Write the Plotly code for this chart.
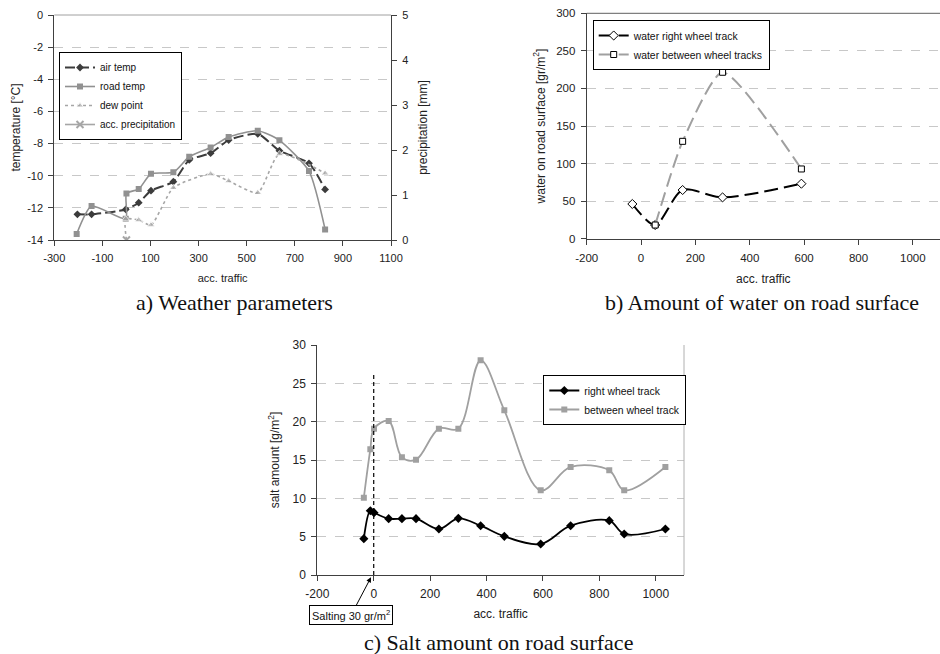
import plotly.graph_objects as go

# ---------------- data: a) weather parameters ----------------
air_x = [-204, -145, -3, 51, 102, 195, 261, 350, 425, 546, 636, 759, 826]
air_temp = [-12.4, -12.4, -12.1, -11.68, -10.93, -10.37, -9.02, -8.6, -7.78, -7.4, -8.44, -9.23, -10.85]
road_x = [-207, -145, -3, 0, 51, 102, 195, 261, 350, 425, 546, 636, 759, 826]
road_temp = [-13.63, -11.89, -12.68, -11.1, -10.83, -9.88, -9.79, -8.82, -8.24, -7.59, -7.2, -7.8, -9.71, -13.34]
dew_x = [0, -3, 51, 102, 195, 350, 425, 546, 636, 826]
dew_temp = [-14, -12.7, -12.76, -13.07, -10.75, -9.9, -10.33, -11.06, -8.65, -9.85]
dew_marker = [0, 7, 7, 7, 7, 7, 7, 7, 7, 7]
precip_x = [0]
precip_mm = [0]
traffic_ticks_a = [-300, -100, 100, 300, 500, 700, 900, 1100]
temp_ticks = [0, -2, -4, -6, -8, -10, -12, -14]
precip_ticks = [0, 1, 2, 3, 4, 5]

# ---------------- data: b) water on road surface ----------------
water_right_x = [-32, 52, 153, 300, 590]
water_right = [46.2, 18.2, 64.8, 55, 73.2]
water_between_x = [52, 153, 300, 590]
water_between = [18.2, 129.6, 221.5, 92.8]
traffic_ticks_bc = [-200, 0, 200, 400, 600, 800, 1000]
water_ticks = [0, 50, 100, 150, 200, 250, 300]

# ---------------- data: c) salt amount ----------------
salt_x = [-35, -12, 1, 53, 100, 150, 231, 300, 379, 463, 592, 698, 835, 888, 1034]
salt_right = [4.74, 8.39, 8.13, 7.35, 7.35, 7.35, 6.0, 7.39, 6.43, 5.04, 4.04, 6.43, 7.09, 5.35, 6.0]
salt_between = [10.09, 16.39, 19.09, 20.09, 15.35, 15.04, 19.09, 19.09, 28.0, 21.48, 11.04, 14.09, 13.65, 11.04, 14.09]
salting_x = [0, 0]
salting_y = [0, 26.4]
salt_ticks = [0, 5, 10, 15, 20, 25, 30]

W, H = 940, 654
FONT = "Liberation Sans, Arial, sans-serif"
SERIF = "Liberation Serif, Times New Roman, serif"
AX = "#404040"
GRID = "#c8c8c8"


def px(v):
    return v / W


def py(v):
    return 1 - v / H


def labels(vals):
    return [str(v) for v in vals]


fig = go.Figure()

# ---- panel a ----
fig.add_trace(go.Scatter(x=air_x, y=air_temp, name="air temp", mode="lines+markers",
                         line=dict(color="#3c3c3c", width=2, dash="10px,4px", shape="spline", smoothing=0.6),
                         marker=dict(symbol="diamond", size=6, color="#3c3c3c"),
                         xaxis="x", yaxis="y", legend="legend"))
fig.add_trace(go.Scatter(x=road_x, y=road_temp, name="road temp", mode="lines+markers",
                         line=dict(color="#919191", width=1.6, shape="spline", smoothing=0.6),
                         marker=dict(symbol="square", size=6, color="#919191"),
                         xaxis="x", yaxis="y", legend="legend"))
fig.add_trace(go.Scatter(x=dew_x, y=dew_temp, name="dew point", mode="lines+markers",
                         line=dict(color="#a6a6a6", width=1.6, dash="3px,3px", shape="spline", smoothing=0.6),
                         marker=dict(symbol="triangle-up", size=dew_marker, color="#a6a6a6"),
                         xaxis="x", yaxis="y", legend="legend"))
fig.add_trace(go.Scatter(x=precip_x, y=precip_mm, name="acc. precipitation", mode="lines+markers",
                         line=dict(color="#a6a6a6", width=1.6),
                         marker=dict(symbol="x-thin", size=7, color="#a6a6a6", line=dict(color="#a6a6a6", width=2)),
                         xaxis="x", yaxis="y2", legend="legend"))

# ---- panel b ----
fig.add_trace(go.Scatter(x=water_right_x, y=water_right, name="water right wheel track", mode="lines+markers",
                         line=dict(color="#000000", width=2, dash="14px,6px", shape="spline", smoothing=0.8),
                         marker=dict(symbol="diamond", size=7, color="white", line=dict(color="#000000", width=1)),
                         xaxis="x2", yaxis="y3", legend="legend2"))
fig.add_trace(go.Scatter(x=water_between_x, y=water_between, name="water between wheel tracks", mode="lines+markers",
                         line=dict(color="#a0a0a0", width=2, dash="14px,6px", shape="spline", smoothing=0.6),
                         marker=dict(symbol="square", size=6, color="white", line=dict(color="#000000", width=1)),
                         xaxis="x2", yaxis="y3", legend="legend2"))

# ---- panel c ----
fig.add_trace(go.Scatter(x=salt_x, y=salt_right, name="right wheel track", mode="lines+markers",
                         line=dict(color="#000000", width=1.8, shape="spline", smoothing=1),
                         marker=dict(symbol="diamond", size=7, color="#000000"),
                         xaxis="x3", yaxis="y4", legend="legend3"))
fig.add_trace(go.Scatter(x=salt_x, y=salt_between, name="between wheel track", mode="lines+markers",
                         line=dict(color="#a0a0a0", width=1.8, shape="spline", smoothing=1),
                         marker=dict(symbol="square", size=6, color="#a0a0a0"),
                         xaxis="x3", yaxis="y4", legend="legend3"))
fig.add_trace(go.Scatter(x=salting_x, y=salting_y, mode="lines", showlegend=False, hoverinfo="skip",
                         line=dict(color="#000000", width=1.2, dash="4px,3px"),
                         xaxis="x3", yaxis="y4"))


def xax(domain, rng, ticks, anchor, fs, title, tfs, standoff=6):
    return dict(domain=domain, range=rng, tickmode="array", tickvals=ticks, ticktext=labels(ticks),
                anchor=anchor, automargin=False,
                showline=True, linecolor=AX, linewidth=1, ticks="outside", ticklen=5, tickcolor=AX,
                showgrid=False, zeroline=False, tickfont=dict(family=FONT, size=fs, color="#222"),
                ticklabelstandoff=3,
                title=dict(text=title, font=dict(family=FONT, size=tfs, color="#222"), standoff=standoff))


def yax(domain, rng, ticks, anchor, fs, title, tfs, standoff=8):
    return dict(domain=domain, range=rng, tickmode="array", tickvals=ticks, ticktext=labels(ticks),
                anchor=anchor, automargin=False,
                showline=True, linecolor=AX, linewidth=1, ticks="outside", ticklen=5, tickcolor=AX,
                showgrid=True, gridcolor=GRID, griddash="dash", gridwidth=1, zeroline=False,
                tickfont=dict(family=FONT, size=fs, color="#222"), ticklabelstandoff=3,
                title=dict(text=title, font=dict(family=FONT, size=tfs, color="#222"), standoff=standoff))


dom_a_x = [px(54.3), px(391)]
dom_a_y = [py(240), py(15)]
dom_b_x = [px(586.7), 1.0]
dom_b_y = [py(238.7), py(13.3)]
dom_c_x = [px(317.3), px(684)]
dom_c_y = [py(575), py(345)]

legend_style = dict(bgcolor="white", bordercolor="#000000", borderwidth=1,
                    xanchor="left", yanchor="top", tracegroupgap=0)

fig.update_layout(
    width=W, height=H,
    margin=dict(l=0, r=0, t=0, b=0, autoexpand=False),
    paper_bgcolor="white", plot_bgcolor="white",
    font=dict(family=FONT, color="#222"),
    xaxis=xax(dom_a_x, [-300, 1100], traffic_ticks_a, "y", 11, "acc. traffic", 11, standoff=11),
    yaxis=yax(dom_a_y, [-14, 0], temp_ticks, "x", 11, "temperature [°C]", 12, standoff=3),
    yaxis2=dict(overlaying="y", side="right", anchor="x", range=[0, 5], tickmode="array",
                tickvals=precip_ticks, ticktext=labels(precip_ticks), automargin=False,
                showline=True, linecolor=AX, linewidth=1, ticks="outside", ticklen=5, tickcolor=AX,
                showgrid=False, zeroline=False, ticklabelstandoff=3,
                tickfont=dict(family=FONT, size=11, color="#222"),
                title=dict(text="precipitation [mm]", font=dict(family=FONT, size=12, color="#222"), standoff=11)),
    xaxis2=xax(dom_b_x, [-200, 1100], traffic_ticks_bc, "y3", 11.5, "acc. traffic", 12, standoff=12),
    yaxis3=yax(dom_b_y, [0, 300], water_ticks, "x2", 11.5, "water on road surface [gr/m<sup>2</sup>]", 12),
    xaxis3=xax(dom_c_x, [-200, 1100], traffic_ticks_bc, "y4", 12, "acc. traffic", 12, standoff=9),
    yaxis4=yax(dom_c_y, [0, 30], salt_ticks, "x3", 12, "salt amount [g/m<sup>2</sup>]", 12, standoff=10),
    legend=dict(x=px(59), y=py(52), font=dict(family=FONT, size=10, color="#111"), **legend_style),
    legend2=dict(x=px(592.7), y=py(20), font=dict(family=FONT, size=10.4, color="#111"), **legend_style),
    legend3=dict(x=px(543.3), y=py(375), font=dict(family=FONT, size=10.4, color="#111"), **legend_style),
    shapes=[
        dict(type="line", xref="x domain", yref="y domain", x0=0, x1=1, y0=1, y1=1,
             line=dict(color="#a0a0a0", width=1)),
        dict(type="line", xref="x2 domain", yref="y3 domain", x0=0, x1=1, y0=1, y1=1,
             line=dict(color="#606060", width=1)),
        dict(type="line", xref="x3 domain", yref="y4 domain", x0=1, x1=1, y0=0, y1=1,
             line=dict(color="#b0b0b0", width=1)),
    ],
    annotations=[
        dict(text="a) Weather parameters", x=px(234), y=py(302), xref="paper", yref="paper",
             xanchor="center", yanchor="middle",
             showarrow=False, font=dict(family=SERIF, size=22, color="#111")),
        dict(text="b) Amount of water on road surface", x=px(762), y=py(302), xref="paper", yref="paper",
             xanchor="center", yanchor="middle",
             showarrow=False, font=dict(family=SERIF, size=22, color="#111")),
        dict(text="c) Salt amount on road surface", x=px(498), y=py(642), xref="paper", yref="paper",
             xanchor="center", yanchor="middle",
             showarrow=False, font=dict(family=SERIF, size=22, color="#111")),
        dict(text="Salting 30 gr/m<sup>2</sup>", x=px(371), y=py(577.3), xref="paper", yref="paper",
             ax=-20, ay=38, showarrow=True, arrowhead=2, arrowsize=1, arrowwidth=1, arrowcolor="#000000",
             bordercolor="#000000", borderwidth=1, borderpad=2, bgcolor="white",
             font=dict(family=FONT, size=11, color="#111")),
    ],
)

fig.write_html("out.html", config={"displayModeBar": False},
               post_script="document.body.style.margin='0';document.body.style.overflow='hidden';")
